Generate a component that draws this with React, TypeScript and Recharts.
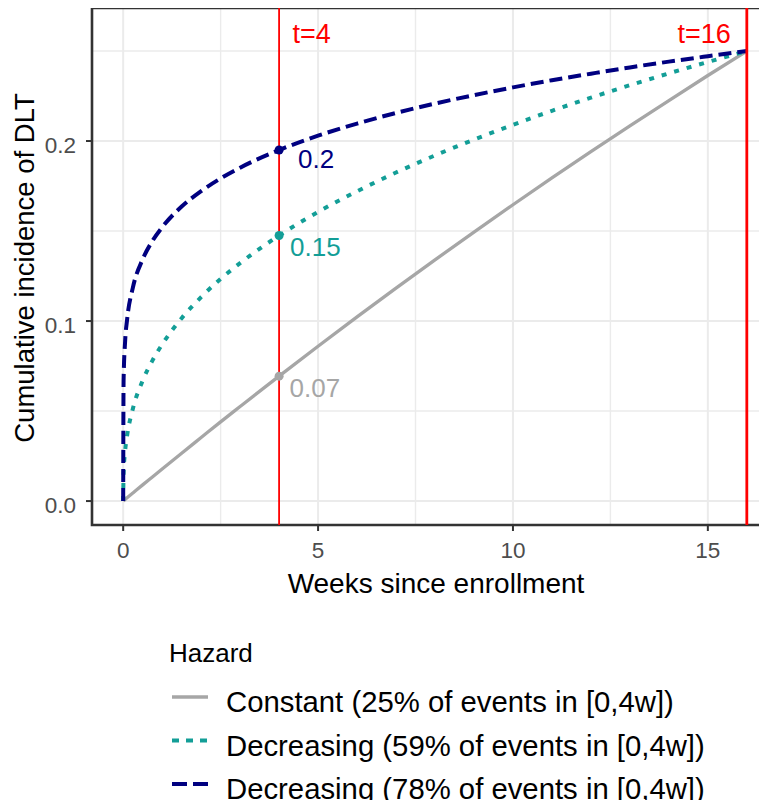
import React from 'react';
import {
  LineChart,
  Line,
  XAxis,
  YAxis,
  CartesianGrid,
  ReferenceLine,
  ReferenceDot,
  ReferenceArea,
} from 'recharts';

// ---------------------------------------------------------------------------
// Data
// ---------------------------------------------------------------------------

const weeks = [0, 0.01, 0.05, 0.1, 0.25, 0.5, 0.75, 1, 1.5, 2, 2.5, 3, 4, 5, 6, 7, 8, 9, 10, 11, 12, 13, 14, 15, 16];
const constant = [0, 0.0002, 0.0009, 0.0018, 0.0045, 0.009, 0.0134, 0.0178, 0.0266, 0.0353, 0.044, 0.0525, 0.0694, 0.086, 0.1023, 0.1183, 0.134, 0.1494, 0.1646, 0.1795, 0.1941, 0.2084, 0.2225, 0.2364, 0.25];
const decreasing59 = [0, 0.0151, 0.0278, 0.0362, 0.0514, 0.0669, 0.078, 0.087, 0.1016, 0.1133, 0.1234, 0.1322, 0.1475, 0.1606, 0.1721, 0.1825, 0.192, 0.2008, 0.209, 0.2168, 0.2241, 0.231, 0.2376, 0.2439, 0.25];
const decreasing78 = [0, 0.0667, 0.0889, 0.1007, 0.1187, 0.1343, 0.1445, 0.1521, 0.1636, 0.1722, 0.1792, 0.1852, 0.195, 0.203, 0.2097, 0.2156, 0.2208, 0.2255, 0.2298, 0.2338, 0.2374, 0.2409, 0.2441, 0.2471, 0.25];

const markerWeek = 4;
const markerValues = [0.0694, 0.1475, 0.195];
const markerLabels = ['0.07', '0.15', '0.2'];

const cutoffs = [4, 16];
const cutoffLabels = ['t=4', 't=16'];

const xTicks = [0, 5, 10, 15];
const xMinor = [2.5, 7.5, 12.5];
const yTicks = [0, 0.1, 0.2];
const yMinor = [0.05, 0.15, 0.25];

const legendTitle = 'Hazard';
const seriesNames = [
  'Constant (25% of events in [0,4w])',
  'Decreasing (59% of events in [0,4w])',
  'Decreasing (78% of events in [0,4w])',
];

// ---------------------------------------------------------------------------
// Styles
// ---------------------------------------------------------------------------

const FONT = "'Liberation Sans', Arial, sans-serif";
const X_DOMAIN: [number, number] = [-0.8, 16.8];
const Y_DOMAIN: [number, number] = [-0.0133, 0.2739];

const SERIES = [
  { key: 'constant', color: '#a6a6a6', dash: undefined, legendDash: undefined, width: 3.3 },
  { key: 'dec59', color: '#139e97', dash: '5 8', legendDash: '7 7', width: 4 },
  { key: 'dec78', color: '#000080', dash: '13 6', legendDash: '15 6', width: 4 },
];

// label offsets from the marker centre
const MARKER_OFFSETS = [
  { dx: 10.5, dy: 20.7 },
  { dx: 11, dy: 20.7 },
  { dx: 19, dy: 18 },
];

const rows = weeks.map((week, i) => ({
  week,
  constant: constant[i],
  dec59: decreasing59[i],
  dec78: decreasing78[i],
}));

function XTick({ x, y, payload }: any) {
  return (
    <text x={x} y={y + 25} textAnchor="middle" fontSize={22.5} fill="#4d4d4d" fontFamily={FONT}>
      {payload.value}
    </text>
  );
}

function YTick({ x, y, payload }: any) {
  return (
    <text x={x} y={y + 12} textAnchor="end" fontSize={22.5} fill="#4d4d4d" fontFamily={FONT}>
      {Number(payload.value).toFixed(1)}
    </text>
  );
}

function HazardLegend() {
  const rowY = [697, 740.5, 784];
  return (
    <svg
      width={767}
      height={808}
      style={{ position: 'absolute', left: 0, top: 0, pointerEvents: 'none' }}
    >
      <text x={169} y={662} fontSize={26} fontFamily={FONT} fill="#000">
        {legendTitle}
      </text>
      {SERIES.map((s, i) => (
        <g key={s.key}>
          <line
            x1={172}
            x2={208}
            y1={rowY[i]}
            y2={rowY[i]}
            stroke={s.color}
            strokeWidth={s.width}
            strokeDasharray={s.legendDash}
          />
          <text x={226} y={rowY[i] + 15} fontSize={29.3} fontFamily={FONT} fill="#000">
            {seriesNames[i]}
          </text>
        </g>
      ))}
    </svg>
  );
}

export default function App() {
  return (
    <div style={{ position: 'relative', width: 767, height: 808, overflow: 'hidden', margin: -8, background: '#fff' }}>
      <LineChart
        width={790}
        height={808}
        data={rows}
        margin={{ top: 8, right: 12, bottom: 223, left: 0 }}
      >
        <CartesianGrid stroke="#ebebeb" strokeWidth={2} />
        <CartesianGrid stroke="#ebebeb" strokeWidth={1.4} verticalValues={xMinor} horizontalValues={yMinor} />
        <XAxis
          type="number"
          dataKey="week"
          domain={X_DOMAIN}
          ticks={xTicks}
          allowDataOverflow
          axisLine={false}
          tickSize={6}
          tickMargin={2}
          tickLine={{ stroke: '#333', strokeWidth: 2 }}
          tick={<XTick />}
          height={60}
          label={{
            content: () => (
              <text x={436} y={593} textAnchor="middle" fontSize={28} fontFamily={FONT} fill="#000">
                Weeks since enrollment
              </text>
            ),
          }}
        />
        <YAxis
          type="number"
          domain={Y_DOMAIN}
          ticks={yTicks}
          allowDataOverflow
          axisLine={false}
          tickSize={6}
          tickMargin={10}
          tickLine={{ stroke: '#333', strokeWidth: 2 }}
          tick={<YTick />}
          width={92}
          label={{
            content: () => (
              <text
                x={34}
                y={268}
                transform="rotate(-90 34 268)"
                textAnchor="middle"
                fontSize={27.5}
                fontFamily={FONT}
                fill="#000"
              >
                Cumulative incidence of DLT
              </text>
            ),
          }}
        />

        {SERIES.map((s) => (
          <Line
            key={s.key}
            type="monotone"
            dataKey={s.key}
            stroke={s.color}
            strokeWidth={s.width}
            strokeDasharray={s.dash}
            dot={false}
            activeDot={false}
            isAnimationActive={false}
          />
        ))}

        {cutoffs.map((t, i) => (
          <ReferenceLine
            key={t}
            x={t}
            stroke="#ff0000"
            strokeWidth={i === 0 ? 1.8 : 2.8}
            label={(props: any) => {
              const vb = props.viewBox;
              return (
                <text
                  x={i === 0 ? vb.x + 13.5 : vb.x - 16}
                  y={vb.y + 35}
                  textAnchor={i === 0 ? 'start' : 'end'}
                  fontSize={27}
                  fontFamily={FONT}
                  fill="#ff0000"
                >
                  {cutoffLabels[i]}
                </text>
              );
            }}
          />
        ))}

        {markerValues.map((v, i) => (
          <ReferenceDot
            key={markerLabels[i]}
            x={markerWeek}
            y={v}
            r={4.5}
            fill={SERIES[i].color}
            stroke="none"
            label={(props: any) => {
              const vb = props.viewBox;
              const cx = vb.x + vb.width / 2;
              const cy = vb.y + vb.height / 2;
              return (
                <text
                  x={cx + MARKER_OFFSETS[i].dx}
                  y={cy + MARKER_OFFSETS[i].dy}
                  fontSize={26}
                  fontFamily={FONT}
                  fill={SERIES[i].color}
                >
                  {markerLabels[i]}
                </text>
              );
            }}
          />
        ))}

        <ReferenceArea
          x1={X_DOMAIN[0]}
          x2={X_DOMAIN[1]}
          y1={Y_DOMAIN[0]}
          y2={Y_DOMAIN[1]}
          fill="none"
          fillOpacity={0}
          stroke="#333"
          strokeWidth={2.6}
          ifOverflow="visible"
        />
      </LineChart>
      <HazardLegend />
    </div>
  );
}
